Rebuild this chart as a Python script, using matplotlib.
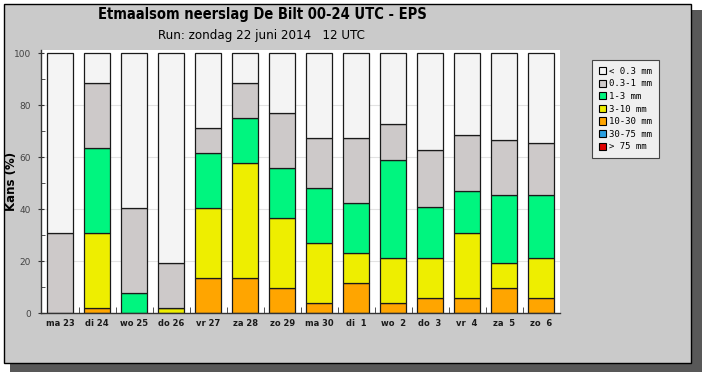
import matplotlib
matplotlib.use("Agg")
import matplotlib.pyplot as plt
from matplotlib.patches import Rectangle, Patch
import numpy as np

# day labels of the EPS run
days = ["ma 23", "di 24", "wo 25", "do 26", "vr 27", "za 28", "zo 29",
        "ma 30", "di  1", "wo  2", "do  3", "vr  4", "za  5", "zo  6"]

# probability (%) per precipitation class, bottom class first
p_gt75 = [0, 0, 0, 0, 0, 0, 0, 0, 0, 0, 0, 0, 0, 0]
p_30_75 = [0, 0, 0, 0, 0, 0, 0, 0, 0, 0, 0, 0, 0, 0]
p_10_30 = [0, 1.9, 0, 0, 13.5, 13.5, 9.6, 3.8, 11.5, 3.8, 5.8, 5.8, 9.6, 5.8]
p_3_10 = [0, 28.9, 0, 1.9, 26.9, 44.2, 26.9, 23.1, 11.6, 17.4, 15.4, 25.0, 9.6, 15.4]
p_1_3 = [0, 32.7, 7.7, 0, 21.1, 17.3, 19.3, 21.2, 19.2, 37.8, 19.8, 16.1, 26.2, 24.2]
p_03_1 = [30.8, 25.0, 32.7, 17.3, 9.7, 13.5, 21.1, 19.2, 25.0, 13.9, 21.8, 21.8, 21.3, 20.0]
p_lt03 = [69.2, 11.5, 59.6, 80.8, 28.8, 11.5, 23.1, 32.7, 32.7, 27.1, 37.2, 31.3, 33.3, 34.6]

classes = ["> 75 mm", "30-75 mm", "10-30 mm", "3-10 mm", "1-3 mm", "0.3-1 mm", "< 0.3 mm"]
colors = ["#e00000", "#2a9fe0", "#ffa500", "#eeee00", "#00f57f", "#cdc9c9", "#f4f4f4"]
layers = [p_gt75, p_30_75, p_10_30, p_3_10, p_1_3, p_03_1, p_lt03]

W, H = 702, 372
fig = plt.figure(figsize=(W / 100, H / 100), dpi=100, facecolor="white")

# panel with drop shadow, drawn in pixel coordinates
bg = fig.add_axes([0, 0, 1, 1], zorder=-5)
bg.set_xlim(0, W)
bg.set_ylim(H, 0)
bg.axis("off")
bg.add_patch(Rectangle((10, 10), W - 10, H - 10, facecolor="#585858", edgecolor="none"))
bg.add_patch(Rectangle((4, 3.5), 687, 359, facecolor="#cacaca", edgecolor="black", linewidth=1))

ax = fig.add_axes([40.5 / W, 1 - 313.3 / H, (560 - 40.5) / W, (313.3 - 50) / H])
ax.set_facecolor("white")

x = np.arange(len(days))
bottom = np.zeros(len(days))
for vals, c in zip(layers, colors):
    vals = np.array(vals, dtype=float)
    ax.bar(x, vals, 0.70, bottom=bottom, color=c, edgecolor="#1a1a1a",
           linewidth=0.9, zorder=3)
    bottom += vals

ax.set_xlim(-0.53, 13.51)
ax.set_ylim(0, 101.3)
ax.set_yticks(np.arange(0, 101, 20))
ax.set_yticks(np.arange(10, 100, 20), minor=True)
ax.set_xticks(x)
ax.set_xticklabels(days, fontsize=6, fontweight="bold", color="#1a1a1a")
ax.set_xticks(x[:-1] + 0.5, minor=True)
ax.tick_params(axis="x", which="major", length=0, pad=4)
ax.tick_params(axis="x", which="minor", direction="in", length=4, color="#333")
ax.tick_params(axis="y", which="major", direction="inout", length=4, color="#333",
               labelsize=6.5, labelcolor="#444", pad=5)
ax.tick_params(axis="y", which="minor", direction="in", length=3, color="#333")
for v in [20, 40, 60, 80]:
    ax.axhline(v, color="#e2e2e2", linewidth=0.8, zorder=1)
for s in ["top", "right"]:
    ax.spines[s].set_visible(False)
for s in ["left", "bottom"]:
    ax.spines[s].set_color("#333")
    ax.spines[s].set_linewidth(1)
    ax.spines[s].set_zorder(4)

fig.text(12 / W, 1 - 181 / H, "Kans (%)", rotation=90, ha="center", va="center",
         fontsize=8.5, fontweight="bold")
fig.text(262 / W, 1 - 14 / H, "Etmaalsom neerslag De Bilt 00-24 UTC - EPS",
         ha="center", va="center", fontsize=10.5, fontweight="bold",
         fontstretch="condensed")
fig.text(261 / W, 1 - 35 / H, "Run: zondag 22 juni 2014   12 UTC",
         ha="center", va="center", fontsize=9.5, fontstretch="condensed")

handles = [Patch(facecolor=c, edgecolor="black", linewidth=0.8) for c in colors[::-1]]
leg = fig.legend(handles, classes[::-1], loc="upper left",
                 bbox_to_anchor=(592 / W, 1 - 60 / H), borderaxespad=0,
                 prop={"family": "DejaVu Sans Mono", "size": 6.5},
                 handlelength=0.85, handleheight=0.85, handletextpad=0.3,
                 labelspacing=0.4, borderpad=0.75, fancybox=False,
                 framealpha=1, facecolor="#efefef", edgecolor="#444")
leg.get_frame().set_linewidth(0.8)

fig.savefig("out.png", dpi=100, facecolor="white")
